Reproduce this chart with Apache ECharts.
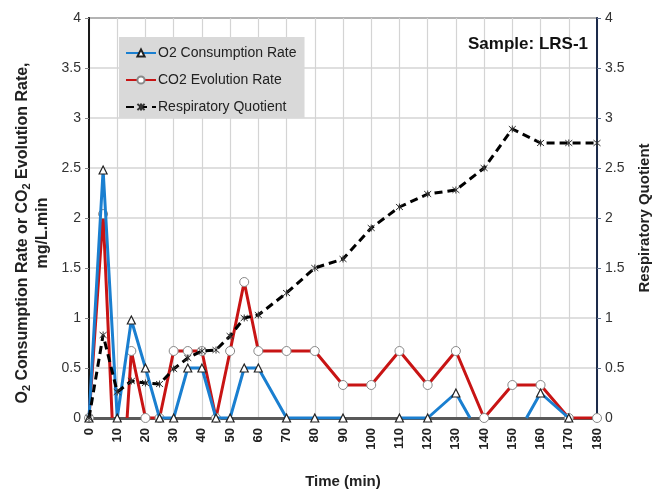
<!DOCTYPE html>
<html><head><meta charset="utf-8">
<script src="https://cdn.jsdelivr.net/npm/echarts@6/dist/echarts.min.js"></script>
<style>html,body{margin:0;padding:0;background:#fff}#c{width:669px;height:496px}</style>
</head><body><div id="c"></div>
<script>
// O2 consumption rate (mg/L.min); null = gap in the line
const o2Time = [0,5,10,15,20,25,30,35,40,45,50,55,60,70,80,90,100,110,120,130,135,145,155,160,170];
const o2Rate = [0,2.48,0,0.98,0.5,0,0,0.5,0.5,0,0,0.5,0.5,0,0,0,null,0,0,0.25,0,null,0,0.25,0];
const o2NoMarker = [135,155];
// CO2 evolution rate (mg/L.min)
const co2Time = [0,5,8.2,10,13.5,15,20,25,30,35,40,45,50,55,60,70,80,90,100,110,120,130,140,150,160,170,180];
const co2Rate = [0,2.04,0,null,0,0.67,0,0,0.67,0.67,0.67,0,0.67,1.36,0.67,0.67,0.67,0.33,0.33,0.67,0.33,0.67,0,0.33,0.33,0,0];
const co2NoMarker = [8.2,13.5];
// Respiratory quotient
const rqTime = [0,5,10,15,20,25,30,35,40,45,50,55,60,70,80,90,100,110,120,130,140,150,160,170,180];
const rqVal = [0,0.83,0.26,0.37,0.35,0.34,0.49,0.6,0.67,0.68,0.82,1.0,1.03,1.25,1.5,1.59,1.9,2.11,2.24,2.28,2.5,2.89,2.75,2.75,2.75];

const seriesNames = ['O2 Consumption Rate','CO2 Evolution Rate','Respiratory Quotient'];
const xTicks = {min:0, max:180, step:10};
const yTicks = {min:0, max:4, step:0.5};

const F = "'Liberation Sans Narrow','Liberation Sans',Arial,sans-serif";
const FB = "'Liberation Sans',Arial,sans-serif";
function pts(t, v, noMark){
  return t.map((x,i)=> v[i]===null ? [x,null] :
    (noMark && noMark.includes(x) ? {value:[x,v[i]], symbol:'none'} : [x,v[i]]));
}
const star = 'path://M0,0L10,10M10,0L0,10M5,-1L5,11';
const chart = echarts.init(document.getElementById('c'), null, {renderer:'canvas'});
chart.setOption({
  animation:false,
  backgroundColor:'#fff',
  grid:{left:89,right:72,top:18,bottom:78,outerBoundsMode:'none',containLabel:false,show:true,borderColor:'#1a1a1a',borderWidth:1.5},
  title:{text:'Sample: LRS-1',right:76,top:31,textStyle:{fontFamily:FB,fontWeight:'bold',fontSize:17,color:'#111'}},
  legend:{
    left:119,top:37,orient:'vertical',backgroundColor:'#d9d9d9',
    padding:[9,8,4,6],itemGap:13,itemWidth:30,itemHeight:9,
    textStyle:{fontFamily:F,fontSize:14,color:'#222',padding:[0,0,0,-3]},
    data:seriesNames
  },
  xAxis:{
    type:'value',min:xTicks.min,max:xTicks.max,interval:xTicks.step,
    name:'Time (min)',nameLocation:'middle',nameGap:56,
    nameTextStyle:{fontFamily:F,fontWeight:'bold',fontSize:15,color:'#222'},
    axisLine:{show:true,lineStyle:{color:'#595959',width:3}},
    axisTick:{show:false},
    axisLabel:{rotate:90,margin:10,fontFamily:F,fontWeight:'bold',fontSize:13,color:'#222'},
    splitLine:{show:true,lineStyle:{color:'#d4d4d4',width:1.2}}
  },
  yAxis:[{
    type:'value',min:yTicks.min,max:yTicks.max,interval:yTicks.step,position:'left',
    name:'{a|O}{s|2}{a| Consumption Rate or CO}{s|2}{a| Evolution Rate,}\n{a|mg/L.min}',
    nameLocation:'middle',nameGap:28,nameRotate:90,
    nameTextStyle:{padding:[0,30,0,0],rich:{
      a:{fontFamily:FB,fontWeight:'bold',fontSize:16,color:'#222',lineHeight:20},
      s:{fontFamily:FB,fontWeight:'bold',fontSize:11,color:'#222',lineHeight:20,verticalAlign:'bottom',padding:[6,0,0,0]}
    }},
    axisLine:{show:true,lineStyle:{color:'#1a1a1a',width:2}},
    axisTick:{show:true,length:4,lineStyle:{color:'#888'}},
    axisLabel:{margin:8,fontFamily:F,fontSize:14,color:'#333'},
    splitLine:{show:true,lineStyle:{color:'#d4d4d4',width:1.5}}
  },{
    type:'value',min:yTicks.min,max:yTicks.max,interval:yTicks.step,position:'right',
    name:'Respiratory Quotient',nameLocation:'middle',nameGap:40,nameRotate:90,
    nameTextStyle:{fontFamily:FB,fontWeight:'bold',fontSize:15,color:'#222'},
    axisLine:{show:true,lineStyle:{color:'#1c2b4a',width:2}},
    axisTick:{show:true,length:4,lineStyle:{color:'#5a6a8a'}},
    axisLabel:{margin:8,fontFamily:F,fontSize:14,color:'#333'},
    splitLine:{show:false}
  }],
  series:[{
    name:seriesNames[0],type:'line',yAxisIndex:0,z:3,
    data:pts(o2Time,o2Rate,o2NoMarker),connectNulls:false,
    lineStyle:{color:'#1a7fd0',width:3},
    itemStyle:{color:'#fff',borderColor:'#222',borderWidth:1.2},
    symbol:'triangle',symbolSize:[8,8],showAllSymbol:true
  },{
    name:seriesNames[1],type:'line',yAxisIndex:0,z:2,
    data:pts(co2Time,co2Rate,co2NoMarker),connectNulls:false,
    lineStyle:{color:'#c81414',width:3},
    itemStyle:{color:'#fff',borderColor:'#888',borderWidth:1},
    symbol:'circle',symbolSize:9,showAllSymbol:true
  },{
    name:seriesNames[2],type:'line',yAxisIndex:1,z:4,
    data:pts(rqTime,rqVal),
    lineStyle:{color:'#000',width:3,type:[8,5]},
    itemStyle:{color:'none',borderColor:'#333',borderWidth:1},
    symbol:star,symbolSize:7,showAllSymbol:true
  }]
});
</script></body></html>
